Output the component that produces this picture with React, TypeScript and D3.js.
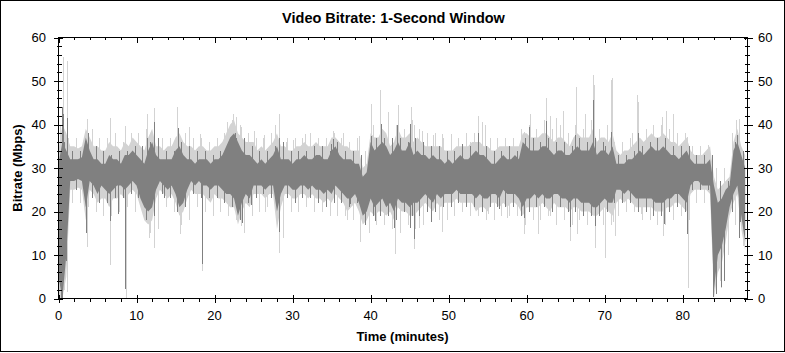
import React from 'react';
import * as d3 from 'd3';

// sampling step of the band arrays (minutes)
const STEP = 0.5;

// dark (inner) band: upper / lower edge, Mbps, every 0.5 min from 0 to 88
const darkHi = [
  31, 36, 34, 32, 32, 32, 32.5, 37, 34, 32,
  32, 31, 31, 33, 32, 32, 31, 33, 33, 34,
  33, 32, 31, 34, 36, 33, 32, 32, 32, 32,
  34, 35, 33, 32, 32, 31, 32, 32, 32, 31,
  32, 32, 33, 35, 37, 38, 36, 34, 33, 33,
  32, 31, 32, 31, 32, 33, 35, 32, 32, 32,
  31, 32, 32, 33, 32, 32, 33, 33, 32, 32,
  34, 35, 33, 32, 32, 32, 31, 31, 28, 29,
  36, 34, 35, 36, 35, 33, 34, 36, 34, 34,
  36, 33, 34, 33, 33, 32, 33, 32, 32, 31,
  32, 31, 32, 33, 32, 32, 33, 34, 33, 33,
  32, 31, 31, 32, 33, 32, 32, 33, 32, 36,
  35, 34, 34, 34, 35, 35, 34, 33, 34, 34,
  33, 33, 34, 35, 34, 34, 34, 36, 33, 34,
  34, 33, 35, 31, 31, 31, 32, 32, 33, 34,
  33, 34, 35, 34, 34, 35, 34, 33, 33, 32,
  33, 34, 32, 31, 31, 31, 31, 32, 26, 22,
  23, 25, 26, 34, 36, 33, 30,
];
const darkLo = [
  5, 0, 10, 27, 27, 27.5, 27, 21, 27, 26,
  24, 26, 25, 24, 25, 26, 26, 25, 26, 27,
  26, 23, 21, 20, 21, 25, 27, 26, 25, 26,
  24, 21, 22, 25, 27, 26, 27, 26, 26, 25,
  26, 26, 25, 24, 24, 23, 19, 22, 24, 23,
  26, 26, 26, 25, 26, 26, 20, 24, 26, 26,
  25, 25, 26, 26, 25, 26, 25, 25, 24, 25,
  24, 26, 25, 24, 23, 23, 24, 22, 19, 20,
  23, 21, 22, 23, 21, 22, 20, 23, 22, 22,
  21, 22, 22, 23, 24, 23, 22, 24, 23, 24,
  24, 24, 25, 24, 24, 24, 24, 23, 24, 23,
  23, 24, 24, 23, 25, 24, 24, 24, 23, 21,
  23, 23, 24, 23, 24, 23, 23, 24, 24, 23,
  23, 22, 23, 23, 22, 22, 22, 21, 21, 22,
  23, 22, 22, 25, 25, 24, 25, 24, 23, 23,
  23, 23, 23, 22, 22, 22, 23, 23, 24, 24,
  23, 22, 26, 27, 27, 26, 26, 26, 2, 10,
  12, 16, 21, 24, 26, 19, 13,
];
// light (outer) band: upper / lower edge
const lightHi = [
  34, 40, 38, 35, 35, 34.5, 35, 39, 37, 35,
  35, 34, 34, 36, 35, 35, 34, 36, 35, 37,
  36, 35, 34, 37, 39, 35, 35, 34, 35, 35,
  37, 38, 36, 35, 35, 34, 35, 35, 34, 34,
  35, 35, 36, 38, 40, 41, 38, 37, 36, 36,
  36, 34, 35, 34, 35, 36, 38, 35, 35, 34,
  34, 35, 35, 36, 35, 35, 36, 35, 35, 35,
  37, 37, 36, 35, 35, 34, 34, 34, 30, 31,
  38, 37, 37, 39, 38, 35, 36, 39, 37, 37,
  38, 36, 37, 36, 35, 35, 35, 35, 35, 34,
  34, 34, 35, 35, 35, 35, 36, 36, 36, 35,
  35, 34, 34, 35, 35, 35, 35, 35, 35, 38,
  38, 37, 37, 37, 38, 38, 37, 36, 37, 37,
  36, 35, 37, 38, 37, 37, 37, 39, 36, 37,
  37, 36, 38, 34, 33, 34, 34, 35, 36, 37,
  36, 37, 38, 37, 37, 38, 37, 36, 36, 35,
  36, 37, 34, 33, 33, 33, 34, 35, 28, 25,
  26, 27, 28, 36, 39, 35, 33,
];
const lightLo = [
  0, 0, 5, 25, 25, 25.5, 25, 18, 25, 24,
  22, 23, 23, 21, 23, 23, 24, 23, 24, 25,
  24, 21, 18, 17, 18, 23, 25, 24, 23, 24,
  22, 19, 20, 23, 25, 24, 24, 24, 23, 22,
  24, 23, 23, 22, 21, 21, 17, 20, 22, 21,
  24, 24, 24, 23, 24, 24, 16, 21, 24, 24,
  23, 23, 24, 24, 23, 24, 23, 23, 22, 23,
  22, 24, 23, 22, 20, 21, 22, 20, 17, 18,
  20, 19, 20, 20, 19, 20, 18, 21, 20, 20,
  19, 19, 20, 21, 22, 21, 20, 22, 21, 22,
  22, 22, 23, 22, 22, 22, 22, 20, 21, 21,
  20, 22, 22, 21, 22, 21, 22, 22, 21, 19,
  21, 21, 21, 21, 22, 21, 20, 22, 21, 21,
  21, 20, 21, 21, 20, 20, 20, 19, 19, 20,
  21, 20, 19, 22, 23, 22, 23, 22, 21, 21,
  21, 21, 21, 20, 20, 20, 21, 21, 22, 22,
  21, 20, 24, 25, 25, 25, 25, 24, 0, 6,
  8, 13, 19, 22, 24, 16, 11,
];

// per-minute small excursions beyond the bands (minute m: light peak at m+0.25,
// light dip at m+0.75, dark peak at m+0.75, dark dip at m+0.25)
const lightPeak = [
  40, 37, 37, 36, 39, 37, 37, 38, 36, 38,
  38, 39, 40, 37, 37, 39, 38, 37, 37, 36,
  37, 38, 41, 40, 38, 37, 37, 38, 39, 37,
  37, 37, 38, 37, 37, 38, 37, 36, 37, 34,
  40, 41, 39, 40, 39, 41, 39, 38, 38, 37,
  37, 37, 38, 38, 39, 37, 37, 37, 37, 39,
  40, 39, 41, 39, 40, 38, 40, 39, 41, 39,
  40, 36, 36, 37, 39, 39, 40, 40, 39, 38,
  38, 35, 35, 35, 30, 30, 38, 37,
];
const lightDip = [
  2, 22, 22, 21, 20, 19, 19, 20, 21, 20,
  21, 15, 16, 21, 20, 17, 18, 21, 20, 19,
  20, 19, 18, 15, 19, 20, 21, 20, 14, 20,
  20, 21, 20, 20, 19, 19, 19, 18, 19, 15,
  17, 17, 16, 15, 17, 16, 17, 18, 18, 18,
  19, 20, 19, 19, 18, 18, 19, 19, 19, 17,
  18, 18, 19, 17, 18, 17, 18, 17, 17, 17,
  17, 19, 20, 20, 18, 18, 17, 17, 18, 19,
  18, 22, 22, 22, 4, 10, 17, 12,
];
const darkPeak = [
  36, 34, 34, 34, 35, 34, 33, 34, 34, 35,
  35, 36, 37, 34, 34, 36, 35, 34, 34, 33,
  34, 35, 37, 37, 35, 34, 34, 35, 36, 34,
  34, 34, 35, 35, 34, 36, 34, 34, 33, 30,
  37, 37, 37, 37, 36, 37, 36, 35, 35, 34,
  34, 34, 35, 35, 35, 34, 34, 35, 34, 37,
  37, 36, 37, 36, 36, 35, 37, 36, 37, 36,
  36, 33, 33, 34, 35, 36, 37, 37, 35, 35,
  35, 33, 33, 33, 27, 27, 36, 34,
];
const darkDip = [
  3, 24, 25, 24, 23, 22, 22, 23, 23, 24,
  23, 18, 19, 24, 23, 20, 21, 24, 23, 23,
  23, 22, 21, 18, 22, 23, 24, 23, 17, 23,
  22, 23, 23, 22, 21, 22, 22, 21, 22, 17,
  19, 19, 19, 18, 20, 19, 19, 20, 20, 21,
  21, 22, 21, 21, 20, 21, 21, 21, 21, 19,
  20, 21, 21, 20, 21, 20, 20, 19, 19, 19,
  20, 22, 22, 22, 20, 20, 19, 19, 20, 21,
  20, 25, 25, 25, 2, 13, 20, 14,
];

// isolated 1-second peaks / dips: [minute, Mbps]
const lightSpikes: [number, number][] = [
  [0.62, 55.5], [1.05, 54.5], [1.05, 1.5], [0.4, 0], [3.7, 41.3], [3.6, 11.8],
  [6.6, 41.5], [6.6, 7.6], [8.55, 39.7], [8.6, 0], [11.3, 42.3], [11.6, 14],
  [12.2, 43.7], [12.3, 11.7], [15.2, 44.1], [15.6, 14.8], [16.7, 39.5],
  [18.1, 37.8], [18.4, 6.4], [21.6, 40.5], [22.3, 42.5], [22.7, 41.8],
  [23.35, 16.7], [23.4, 39.5], [25.0, 38.5], [26.3, 37.5], [26.5, 19.8],
  [27.7, 39.8], [28.2, 42.5], [28.25, 10.5], [29.1, 36], [30.0, 36.5],
  [31.6, 37.8], [32.2, 37.8], [35.2, 38.5], [36.5, 38], [37.0, 18],
  [38.5, 37.3], [38.7, 12.9], [40.0, 44.7], [41.2, 48], [42.2, 42.8],
  [43.1, 10.2], [43.5, 44.5], [45.2, 44.1], [45.6, 11.3], [45.6, 39.8],
  [46.2, 16.2], [46.6, 38.5], [48.0, 37.6], [49.1, 15.2], [49.2, 37.8],
  [50.3, 37.8], [52.8, 36], [53.7, 42], [54.3, 40.5], [54.7, 39.9],
  [55.0, 19.5], [57.5, 18.5], [59.6, 14.8], [59.6, 38.2], [60.3, 39.7],
  [60.4, 42.5], [61.5, 14.8], [62.5, 46], [63.0, 42], [63.0, 19],
  [63.8, 41.5], [64.7, 43.1], [65.5, 13.3], [66.3, 48.6], [66.5, 14.8],
  [67.5, 42.5], [68.5, 51.3], [68.6, 49], [68.8, 11.7], [70.1, 9.4],
  [70.3, 39.8], [70.8, 50.3], [70.9, 50.6], [71.1, 17.5], [71.3, 14.4],
  [73.5, 38], [74.2, 46.7], [74.3, 45.2], [74.6, 19.5], [77.3, 41.7],
  [77.5, 14.4], [77.9, 43], [78.8, 42.5], [80.5, 37.2], [80.65, 2.5],
  [83.3, 35.4], [84.85, 2.5], [86.8, 41.1], [87.2, 41.3],
];
const darkSpikes: [number, number][] = [
  [0.5, 44], [0.6, 42.5], [1.05, 41.4], [1.0, 8.7], [0.3, 0], [0.45, 0],
  [3.55, 15], [3.75, 38], [6.6, 17.9], [7.6, 19.5], [8.55, 2.2], [12.2, 40.5],
  [11.3, 37], [13.5, 23], [15.3, 39.2], [18.4, 8], [22.6, 38], [23.5, 17.3],
  [24.7, 21.5], [28.2, 15.3], [28.2, 37], [34.9, 35.5], [35.2, 36.6],
  [37.4, 21.7], [40.0, 37.4], [40.6, 17.9], [41.3, 40.2], [43.0, 16.3],
  [43.4, 39.9], [45.1, 40.2], [45.0, 16.3], [45.6, 13.6], [47.8, 17.5],
  [51.7, 35.5], [53.7, 38], [56.4, 20.5], [59.6, 18.6], [60.3, 39.5],
  [62.5, 40.8], [65.5, 16.5], [66.2, 37.5], [68.5, 45.7], [68.7, 16.7],
  [70.1, 35], [70.8, 38.2], [74.3, 38], [77.6, 17.1], [80.6, 14.8],
  [83.85, 0.3], [84.3, 1], [84.9, 2.6], [85.3, 4], [87.0, 37.5],
  [87.3, 17.5], [88.25, 0],
];

const xTicks = [0, 10, 20, 30, 40, 50, 60, 70, 80];
const yTicks = [0, 10, 20, 30, 40, 50, 60];
const title = 'Video Bitrate: 1-Second Window';
const xTitle = 'Time (minutes)';
const yTitle = 'Bitrate (Mbps)';

const FONT = 'Liberation Sans, Arial, sans-serif';

export default function App() {
  const W = 785;
  const H = 353;
  const x = d3.scaleLinear().domain([0, 88.3]).range([58.5, 747.5]);
  const y = d3.scaleLinear().domain([0, 60]).range([298.5, 37.5]);
  const minutes = darkHi.map((_, i) => i * STEP);
  const mid = d3
    .scaleLinear()
    .domain(minutes)
    .range(darkHi.map((h, i) => (h + darkLo[i]) / 2))
    .clamp(true);

  const lightArea = d3
    .area<number>()
    .x((m) => x(m))
    .y0((_, i) => y(lightLo[i]))
    .y1((_, i) => y(lightHi[i]));
  const darkArea = d3
    .area<number>()
    .x((m) => x(m))
    .y0((_, i) => y(darkLo[i]))
    .y1((_, i) => y(darkHi[i]));

  const lightAll: [number, number][] = [
    ...lightPeak.map((v, m) => [m + 0.25, v] as [number, number]),
    ...lightDip.map((v, m) => [m + 0.75, v] as [number, number]),
    ...lightSpikes,
  ];
  const darkAll: [number, number][] = [
    ...darkPeak.map((v, m) => [m + 0.75, v] as [number, number]),
    ...darkDip.map((v, m) => [m + 0.25, v] as [number, number]),
    ...darkSpikes,
  ];

  const xMinor = d3.range(0, 89, 2).filter((v) => v % 10 !== 0);
  const yMinor = d3.range(0, 61, 2).filter((v) => v % 10 !== 0);
  const L = 58.5, R = 747.5, T = 37.5, B = 298.5;
  const light = '#d3d3d3';
  const dark = '#808080';
  const px = (v: number) => Math.round(v) + 0.5;

  return (
    <svg
      width={W}
      height={H}
      style={{ position: 'absolute', left: 0, top: 0, background: '#fff' }}
      fontFamily={FONT}
    >
      <rect x={0.5} y={0.5} width={W - 1} height={H - 2} fill="#fff" stroke="#000" />
      <text x={393.5} y={22.5} textAnchor="middle" fontSize={14.5} fontWeight="bold" fill="#000">
        {title}
      </text>

      {/* data */}
      <path d={lightArea(minutes) || ''} fill={light} />
      {lightAll.map(([m, v], i) => (
        <line key={'ls' + i} x1={px(x(m))} x2={px(x(m))} y1={y(v)} y2={y(mid(m))} stroke={light} strokeWidth={1} shapeRendering="crispEdges" />
      ))}
      <path d={darkArea(minutes) || ''} fill={dark} />
      {darkAll.map(([m, v], i) => (
        <line key={'ds' + i} x1={px(x(m))} x2={px(x(m))} y1={y(v)} y2={y(mid(m))} stroke={dark} strokeWidth={1} shapeRendering="crispEdges" />
      ))}

      {/* frame */}
      <rect x={L} y={T} width={R - L} height={B - T} fill="none" stroke="#000" shapeRendering="crispEdges" />

      <g stroke="#000" shapeRendering="crispEdges">
        {xTicks.map((t) => (
          <g key={'xt' + t}>
            <line x1={px(x(t))} x2={px(x(t))} y1={B - 4} y2={B + 4} />
            <line x1={px(x(t))} x2={px(x(t))} y1={T} y2={T + 5} />
          </g>
        ))}
        {xMinor.map((t) => (
          <g key={'xm' + t}>
            <line x1={px(x(t))} x2={px(x(t))} y1={B} y2={B + 3} />
            <line x1={px(x(t))} x2={px(x(t))} y1={T} y2={T + 2} />
          </g>
        ))}
        {yTicks.map((t) => (
          <g key={'yt' + t}>
            <line x1={L - 5} x2={L + 4} y1={px(y(t))} y2={px(y(t))} />
            <line x1={R - 4} x2={R + 5} y1={px(y(t))} y2={px(y(t))} />
          </g>
        ))}
        {yMinor.map((t) => (
          <g key={'ym' + t}>
            <line x1={L - 2} x2={L + 3} y1={px(y(t))} y2={px(y(t))} />
            <line x1={R - 3} x2={R + 2} y1={px(y(t))} y2={px(y(t))} />
          </g>
        ))}
      </g>

      <g fontSize={13} fill="#000">
        {yTicks.map((t) => (
          <text key={'yl' + t} x={46} y={y(t)} dy="0.36em" textAnchor="end">
            {t}
          </text>
        ))}
        {yTicks.map((t) => (
          <text key={'yr' + t} x={758} y={y(t)} dy="0.36em" textAnchor="start">
            {t}
          </text>
        ))}
        {xTicks.map((t) => (
          <text key={'xl' + t} x={x(t)} y={320} textAnchor="middle">
            {t}
          </text>
        ))}
      </g>

      <text x={402.5} y={340.5} textAnchor="middle" fontSize={13} fontWeight="bold" fill="#000">
        {xTitle}
      </text>
      <text
        transform="translate(22,168) rotate(-90)"
        textAnchor="middle"
        fontSize={13}
        fontWeight="bold"
        fill="#000"
      >
        {yTitle}
      </text>
    </svg>
  );
}
